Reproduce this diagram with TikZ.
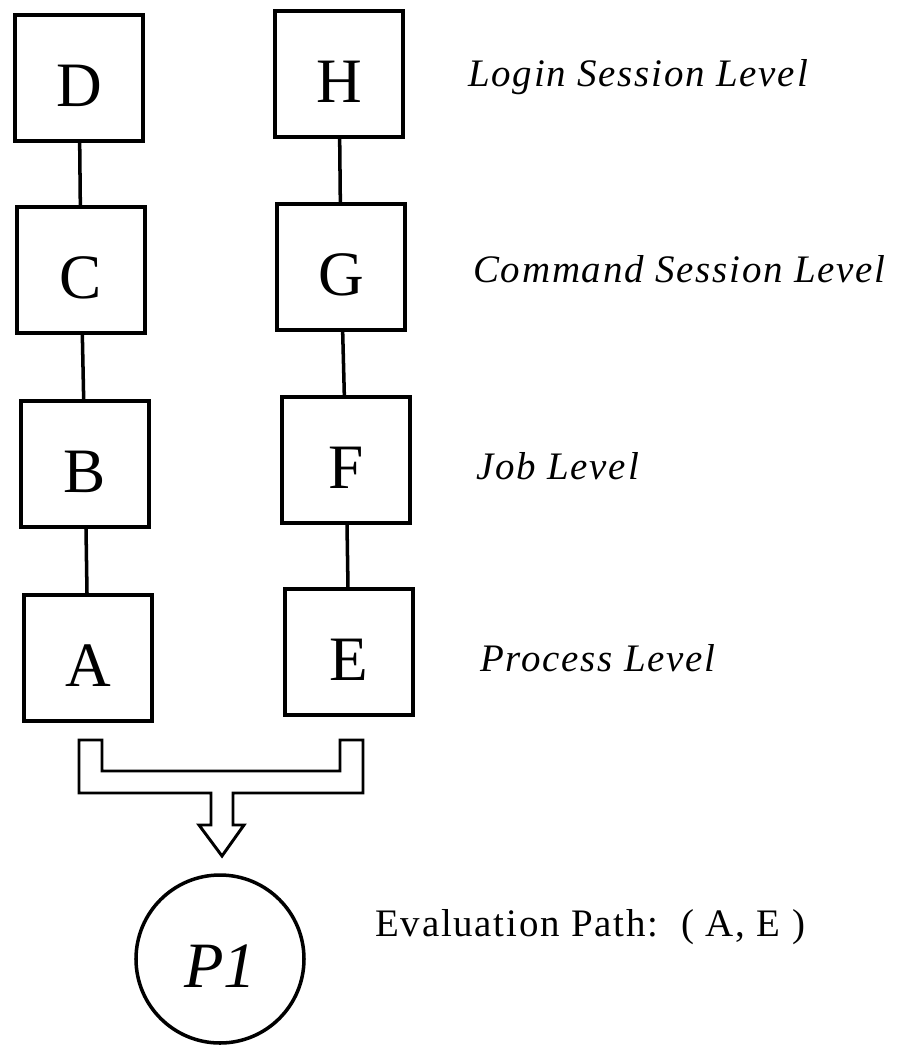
\documentclass[tikz,border=0pt]{standalone}
\usepackage{fontspec}
\setmainfont{Liberation Serif}
\newfontfamily\lvlfont[LetterSpace=4.5]{Liberation Serif}
\begin{document}
\begin{tikzpicture}[scale=0.25]
	\tikzstyle{every node}+=[inner sep=0pt]
	\tikzstyle{lvlbox}=[draw=black, line width=2.8pt, minimum width=3.2cm, minimum height=3.15cm, text height=1.4cm, text depth=0pt, font=\fontsize{45}{50}\selectfont]
	\tikzstyle{lvltext}=[anchor=base west, font=\fontsize{27.7}{32}\lvlfont\itshape]
	\useasboundingbox (0,0) rectangle (89.8,-104.8);
	\node [lvlbox] (D) at (7.9,-7.8) {D};
	\node [lvlbox] (H) at (33.9,-7.4) {H};
	\node [lvlbox] (C) at (8.1,-27.0) {C};
	\node [lvlbox] (G) at (34.1,-26.7) {G};
	\node [lvlbox] (B) at (8.5,-46.4) {B};
	\node [lvlbox] (F) at (34.6,-46.0) {F};
	\node [lvlbox] (A) at (8.8,-65.8) {A};
	\node [lvlbox] (E) at (34.9,-65.2) {E};
	\draw [black, line width=2.5pt] (D) -- (C);
	\draw [black, line width=2.5pt] (C) -- (B);
	\draw [black, line width=2.5pt] (B) -- (A);
	\draw [black, line width=2.5pt] (H) -- (G);
	\draw [black, line width=2.5pt] (G) -- (F);
	\draw [black, line width=2.5pt] (F) -- (E);
	\node [lvltext] (login) at (46.8,-8.6) {Login Session Level};
	\node [lvltext] (command) at (47.3,-28.2) {Command Session Level};
	\node [lvltext] (job) at (47.6,-47.9) {Job Level};
	\node [lvltext] (process) at (48.0,-67.1) {Process Level};
	\draw [black, line width=2.1pt] (7.9,-74.0) -- (10.2,-74.0) -- (10.2,-77.1) -- (34.0,-77.1) -- (34.0,-74.0) -- (36.3,-74.0) -- (36.3,-79.3) -- (23.3,-79.3) -- (23.3,-82.5) -- (24.4,-82.5) -- (22.2,-85.6) -- (19.9,-82.5) -- (21.1,-82.5) -- (21.1,-79.3) -- (7.9,-79.3) -- cycle;
	\node [draw=black, line width=2.5pt, circle, minimum size=4.2cm, text height=1.43cm, text depth=0pt, font=\fontsize{46}{50}\selectfont\itshape] (P1) at (22.0,-95.9) {P1};
	\node [anchor=base west, font=\fontsize{27.7}{32}\lvlfont] (evalpath) at (37.5,-93.6) {Evaluation Path:~~( A, E )};
\end{tikzpicture}
\end{document}
